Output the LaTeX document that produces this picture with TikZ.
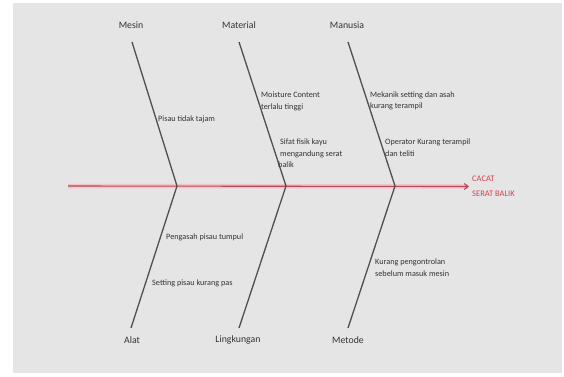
\documentclass[tikz,border=0pt]{standalone}
\usepackage{fontspec}
\setmainfont{Carlito}
\usetikzlibrary{arrows.meta}
\definecolor{bg}{HTML}{E5E5E5}
\definecolor{bone}{HTML}{505050}
\definecolor{spine}{HTML}{B04A56}
\definecolor{glow}{HTML}{F2C4CC}
\definecolor{effectred}{HTML}{D2404E}
\definecolor{txt}{HTML}{333333}
\tikzset{
  cat/.style={font=\fontsize{9.8}{11}\selectfont, text=txt, inner sep=0pt},
  cause/.style={font=\fontsize{8.2}{11.5}\selectfont, text=txt, align=left, anchor=west, inner sep=0pt},
  bonel/.style={draw=bone, line width=1.3pt},
  spinel/.style={draw=spine, line width=1.1pt},
  glowl/.style={draw=glow, line width=4.5pt},
}
\begin{document}
\begin{tikzpicture}[x=1pt,y=-1pt]
\useasboundingbox (0,0) rectangle (564,376);
\fill[white] (0,0) rectangle (564,376);
\fill[bg] (13,3) rectangle (562,373);

% spine
\coordinate (s0) at (68,186);
\coordinate (j1) at (177,186);
\coordinate (j2) at (286,186);
\coordinate (j3) at (395,186);
\node[font=\fontsize{8.5}{15}\selectfont, text=effectred, align=left, anchor=west, inner sep=0pt] (effect) at (472,186.5) {CACAT\\SERAT BALIK};
\draw[glowl] (s0) -- ([xshift=-4pt]effect.west);
\draw[spinel, -{Straight Barb[length=4pt,width=6pt]}] (s0) -- ([xshift=-3pt]effect.west);

% category labels
\node[cat] (mesin) at (131,25) {Mesin};
\node[cat] (material) at (239,25) {Material};
\node[cat] (manusia) at (347,25) {Manusia};
\node[cat] (alat) at (132,340) {Alat};
\node[cat] (lingk) at (238,340) {Lingkungan};
\node[cat] (metode) at (348,340) {Metode};

% bone ends
\coordinate (t1) at (132,42);
\coordinate (t2) at (239,42);
\coordinate (t3) at (348,42);
\coordinate (b1) at (131,328);
\coordinate (b2) at (239,328);
\coordinate (b3) at (348,328);

\draw[bonel] (t1) -- (j1) -- (b1);
\draw[bonel] (t2) -- (j2) -- (b2);
\draw[bonel] (t3) -- (j3) -- (b3);

% causes
\node[cause] (c1) at (158,119) {Pisau tidak tajam};
\node[cause] (c2) at (261,101.5) {Moisture Content\\terlalu tinggi};
\node[cause] (c3) at (278,153.5) {\hspace{2pt}Sifat fisik kayu\\\hspace{2pt}mengandung serat\\balik};
\node[cause] (c4) at (370,101) {Mekanik setting dan asah\\kurang terampil};
\node[cause] (c5) at (385,147.5) {Operator Kurang terampil\\dan teliti};
\node[cause] (c6) at (166,237) {Pengasah pisau tumpul};
\node[cause] (c7) at (152,283) {Setting pisau kurang pas};
\node[cause] (c8) at (375,267.5) {Kurang pengontrolan\\sebelum masuk mesin};
\end{tikzpicture}
\end{document}
